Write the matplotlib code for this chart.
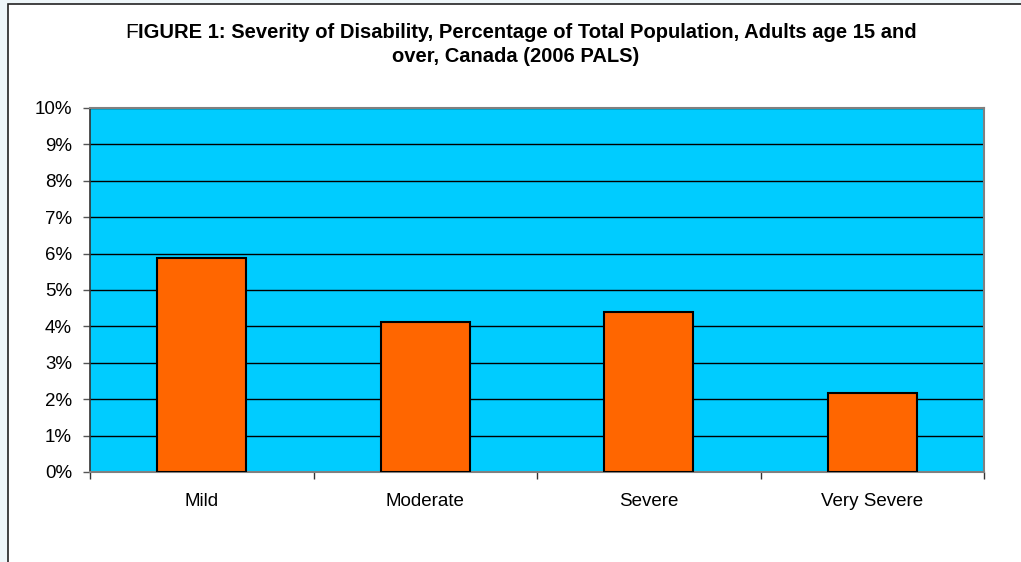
import matplotlib
matplotlib.use("Agg")
import matplotlib.pyplot as plt
from matplotlib.patches import Rectangle
from matplotlib.ticker import FixedLocator, PercentFormatter

categories = ["Mild", "Moderate", "Severe", "Very Severe"]
values = [5.87, 4.11, 4.40, 2.18]
y_ticks = list(range(0, 11))
title_first = "F"
title_rest_line1 = "IGURE 1: Severity of Disability, Percentage of Total Population, Adults age 15 and"
title_line2 = "over, Canada (2006 PALS)"

plt.rcParams["font.family"] = ["Liberation Sans", "DejaVu Sans"]

W, H = 1021, 562
fig = plt.figure(figsize=(W / 100, H / 100), dpi=100)
fig.patch.set_facecolor("#eef6f9")

# white chart frame
fig.patches.append(Rectangle((8 / W, -0.05), 1.2, 1 - 4 / H + 0.05,
                             transform=fig.transFigure, facecolor="white",
                             edgecolor="#222222", linewidth=1.2, zorder=-10))

ax = fig.add_axes([90 / W, 1 - 472 / H, (984 - 90) / W, (472 - 108) / H])
ax.set_facecolor("#00ccff")

x = list(range(len(categories)))
ax.bar(x, values, width=0.4, color="#ff6600", edgecolor="black",
       linewidth=1.5, zorder=3)

ax.set_xlim(-0.5, len(categories) - 0.5)
ax.set_ylim(0, 10)
ax.set_yticks(y_ticks)
ax.yaxis.set_major_formatter(PercentFormatter(decimals=0))
ax.yaxis.grid(True, color="black", linewidth=1.0, zorder=1)
ax.set_axisbelow(True)

ax.xaxis.set_major_locator(FixedLocator([i - 0.5 for i in range(len(categories) + 1)]))
ax.xaxis.set_minor_locator(FixedLocator(x))
ax.set_xticklabels([], minor=False)
ax.set_xticklabels(categories, minor=True)
ax.tick_params(axis="x", which="major", length=5, width=1, color="#333333",
               direction="out")
ax.tick_params(axis="x", which="minor", length=0, pad=15, labelsize=13.5)
ax.tick_params(axis="y", length=5, width=1, color="#555555", pad=8,
               labelsize=13.5)

for side in ("top", "right", "bottom"):
    ax.spines[side].set_color("#808080")
    ax.spines[side].set_linewidth(1.5)
ax.spines["left"].set_color("#333333")
ax.spines["left"].set_linewidth(1.2)

# two-part first title line: plain "F" followed by bold text
fig.canvas.draw()
renderer = fig.canvas.get_renderer()
t1 = fig.text(0, 0, title_first, fontsize=15, va="baseline", ha="left")
t2 = fig.text(0, 0, title_rest_line1, fontsize=14.5, weight="bold",
              va="baseline", ha="left")
w1 = t1.get_window_extent(renderer).width
w2 = t2.get_window_extent(renderer).width
x0 = (521 - (w1 + w2) / 2) / W
base1 = 1 - 38 / H
t1.set_position((x0, base1))
t2.set_position((x0 + w1 / W, base1))
fig.text(516 / W, 1 - 62 / H, title_line2, fontsize=14.5, weight="bold",
         ha="center", va="baseline")

fig.savefig("out.png", dpi=100, facecolor=fig.get_facecolor())
